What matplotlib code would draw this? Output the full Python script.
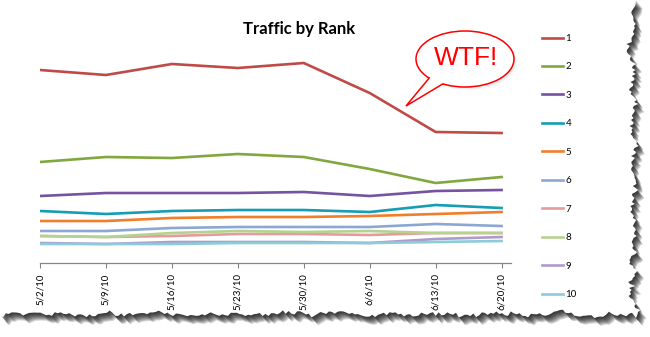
import numpy as np
import pandas as pd
import matplotlib
matplotlib.use("Agg")
import matplotlib.pyplot as plt
from matplotlib.patches import Ellipse, Polygon

plt.rcParams['font.family'] = ['Lato', 'DejaVu Sans']

# weekly traffic per search rank position
dates = ['5/2/10', '5/9/10', '5/16/10', '5/23/10', '5/30/10', '6/6/10', '6/13/10', '6/20/10']
rank1 = [193, 188, 199, 195, 200, 170, 131, 130]
rank2 = [101, 106, 105, 109, 106, 94, 80, 86]
rank3 = [67, 70, 70, 70, 71, 67, 72, 73]
rank4 = [52, 49, 52, 53, 53, 51, 58, 55]
rank5 = [42, 42, 45, 46, 46, 47, 49, 51]
rank6 = [32, 32, 35, 36, 36, 36, 39, 37]
rank7 = [27, 26, 27, 29, 29, 28, 30, 30]
rank8 = [27, 26, 30, 32, 31, 32, 30, 30]
rank9 = [20, 19, 21, 21, 21, 20, 24, 26]
rank10 = [19, 19, 19, 20, 20, 20, 21, 22]
rank_labels = ['1', '2', '3', '4', '5', '6', '7', '8', '9', '10']
series = [rank1, rank2, rank3, rank4, rank5, rank6, rank7, rank8, rank9, rank10]
colors = ['#BE4B48', '#80A83F', '#7553A0', '#169CB3', '#F07E2A',
          '#8AA8D3', '#E39C9B', '#B7D290', '#AE9BC8', '#8ACBDC']

W, H = 650, 337
fig = plt.figure(figsize=(W / 100, H / 100), dpi=100)
fig.patch.set_facecolor('white')

# torn paper background with a drop shadow (pixel coordinates)
bg = fig.add_axes([0, 0, 1, 1], zorder=0)
bg.set_xlim(0, W)
bg.set_ylim(H, 0)
bg.axis('off')

rng = np.random.default_rng(11)
ys = np.linspace(0, 318, 160)
right_x = 633 + np.convolve(rng.normal(0, 5, ys.size), np.ones(5) / 5, 'same') \
    + rng.normal(0, 1.4, ys.size)
xs = np.linspace(632, 0, 220)
bottom_y = 314 + np.convolve(rng.normal(0, 3.5, xs.size), np.ones(5) / 5, 'same') \
    + rng.normal(0, 1.0, xs.size)
paper = np.vstack([[[0, 0]], np.column_stack([right_x, ys]),
                   np.column_stack([xs, bottom_y]), [[0, 0]]])
for k in range(1, 9):
    bg.add_patch(Polygon(paper + [k * 0.8, k * 1.0], closed=True,
                         facecolor='black', edgecolor='none', alpha=0.17))
bg.add_patch(Polygon(paper, closed=True, facecolor='white', edgecolor='none'))

# main chart
ax = fig.add_axes([40 / W, 1 - 263 / H, 471 / W, 223 / H], zorder=2)
ax.set_facecolor('none')
days = (pd.to_datetime(dates, format='%m/%d/%y') - pd.Timestamp('2010-05-02')).days
for vals, c, lab in zip(series, colors, rank_labels):
    ax.plot(days, vals, color=c, lw=1.9, label=lab, solid_joinstyle='round')

ax.set_xlim(0, 50)
ax.set_ylim(0, 223)
ax.set_xticks(days)
ax.set_xticklabels(dates, rotation=90, fontsize=7, va='top')
ax.tick_params(axis='x', direction='out', length=3.5, width=0.8, color='#868686', pad=4)
ax.yaxis.set_visible(False)
for s in ['left', 'right', 'top']:
    ax.spines[s].set_visible(False)
ax.spines['bottom'].set_color('#868686')
ax.spines['bottom'].set_linewidth(0.9)

fig.text(299 / W, 1 - 29 / H, 'Traffic by Rank', ha='center', va='center',
         fontsize=12, fontweight='bold')

fig.legend(loc='upper left', bbox_to_anchor=(542 / W, 1 - 34 / H), frameon=False,
           fontsize=7, handlelength=2.2, handletextpad=0.2, labelspacing=2.0,
           borderpad=0, borderaxespad=0)

# speech bubble
fg = fig.add_axes([0, 0, 1, 1], zorder=3)
fg.set_xlim(0, W)
fg.set_ylim(H, 0)
fg.axis('off')
cx, cy, a, b = 465, 59, 49, 28
tip = np.array([406, 106])
t1, t2 = np.radians(137), np.radians(117)
b1 = np.array([cx + a * np.cos(t1), cy + b * np.sin(t1)])
b2 = np.array([cx + a * np.cos(t2), cy + b * np.sin(t2)])
inner = np.array([cx - 15, cy + 10])
for k in range(1, 4):
    fg.add_patch(Ellipse((cx + k, cy + k), 2 * a, 2 * b, facecolor='#999999',
                         edgecolor='none', alpha=0.08))
fg.add_patch(Ellipse((cx, cy), 2 * a, 2 * b, facecolor='white', edgecolor='#FF0000', lw=1.1))
fg.add_patch(Polygon([tip, b1, inner, b2], closed=True, facecolor='white', edgecolor='none'))
fg.plot([b1[0], tip[0], b2[0]], [b1[1], tip[1], b2[1]], color='#FF0000', lw=1.1,
        solid_joinstyle='miter')
fg.text(cx + 1, cy - 1, 'WTF!', ha='center', va='center', color='#FF0000',
        fontsize=19, family=['Liberation Sans', 'DejaVu Sans'])

fig.savefig('out.png', dpi=100)
